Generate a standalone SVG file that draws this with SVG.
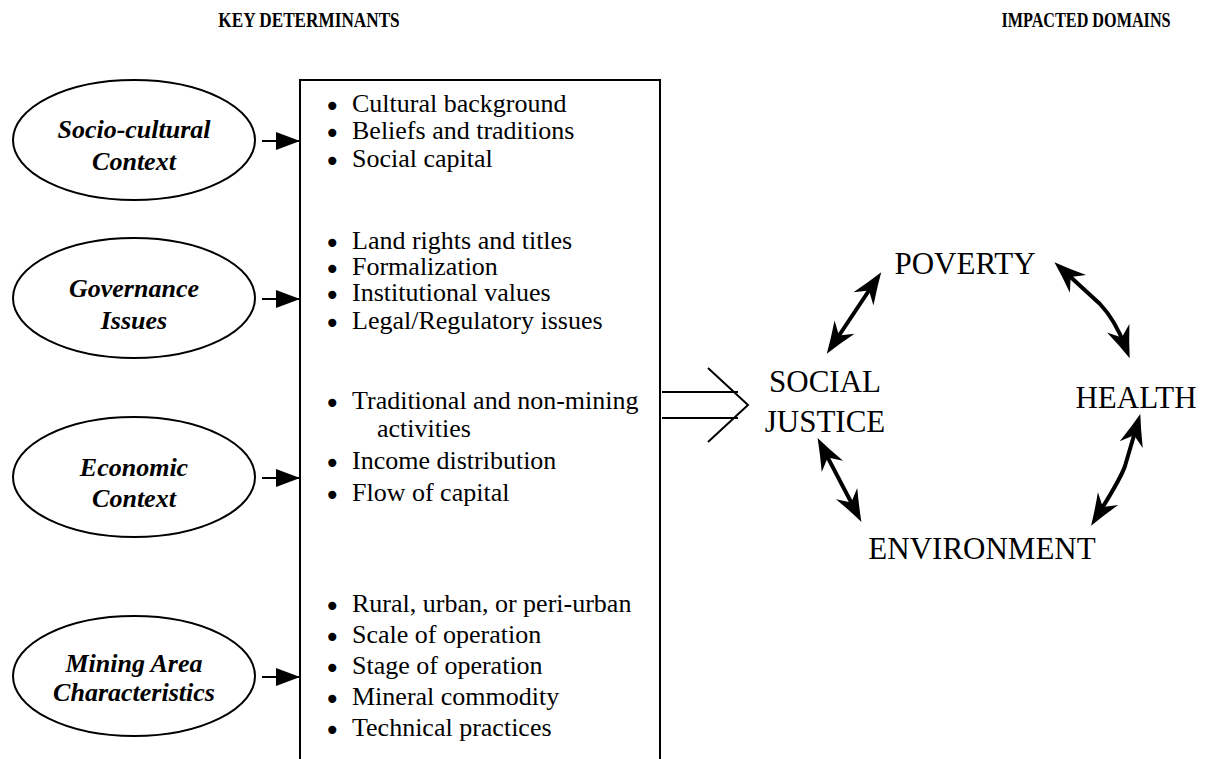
<svg xmlns="http://www.w3.org/2000/svg" width="1210" height="759" viewBox="0 0 1210 759">
<style>
.hdr{font-family:"Liberation Serif","Times New Roman",serif;font-weight:bold;font-size:20px;fill:#000;text-anchor:middle}
.oval{fill:#fff;stroke:#000;stroke-width:2}
.ot{font-family:"Liberation Serif","Times New Roman",serif;font-weight:bold;font-style:italic;font-size:26px;fill:#000;text-anchor:middle}
.bt{font-family:"Liberation Serif","Times New Roman",serif;font-size:26px;fill:#000}
.bu{font-family:"DejaVu Sans",sans-serif;font-size:28px}
.dom{font-family:"Liberation Serif","Times New Roman",serif;font-size:31px;fill:#000;text-anchor:middle}
.ln{stroke:#000;stroke-width:2;fill:none}
.dbl{stroke:#000;stroke-width:4;fill:none;stroke-linejoin:round}
</style>
<defs>
<marker id="tri" markerUnits="userSpaceOnUse" markerWidth="26" markerHeight="18" refX="24" refY="9" orient="auto" overflow="visible">
<path d="M0,0 L24,9 L0,18 Z" fill="#000"/>
</marker>
<marker id="barb" markerUnits="userSpaceOnUse" markerWidth="34" markerHeight="26" refX="19" refY="12" orient="auto-start-reverse" overflow="visible">
<path d="M32,12 Q17,7 0,0 L10,12 L0,24 Q17,17 32,12 Z" fill="#000"/>
</marker>
</defs>

<text class="hdr" transform="translate(309,27) scale(0.86,1)">KEY DETERMINANTS</text>
<text class="hdr" transform="translate(1086,27) scale(0.81,1)">IMPACTED DOMAINS</text>

<g id="determinants-box">
<path class="ln" d="M300,759 L300,80 L660,80 L660,759"/>
<g class="bt">
<text x="352" y="112"><tspan class="bu" x="324" dy="4">•</tspan><tspan x="352" dy="-4">Cultural background</tspan></text>
<text x="352" y="139"><tspan class="bu" x="324" dy="4">•</tspan><tspan x="352" dy="-4">Beliefs and traditions</tspan></text>
<text x="352" y="167"><tspan class="bu" x="324" dy="4">•</tspan><tspan x="352" dy="-4">Social capital</tspan></text>
<text x="352" y="249"><tspan class="bu" x="324" dy="4">•</tspan><tspan x="352" dy="-4">Land rights and titles</tspan></text>
<text x="352" y="275"><tspan class="bu" x="324" dy="4">•</tspan><tspan x="352" dy="-4">Formalization</tspan></text>
<text x="352" y="301"><tspan class="bu" x="324" dy="4">•</tspan><tspan x="352" dy="-4">Institutional values</tspan></text>
<text x="352" y="329"><tspan class="bu" x="324" dy="4">•</tspan><tspan x="352" dy="-4">Legal/Regulatory issues</tspan></text>
<text x="352" y="409"><tspan class="bu" x="324" dy="4">•</tspan><tspan x="352" dy="-4">Traditional and non-mining</tspan></text>
<text x="377" y="437">activities</text>
<text x="352" y="469"><tspan class="bu" x="324" dy="4">•</tspan><tspan x="352" dy="-4">Income distribution</tspan></text>
<text x="352" y="501"><tspan class="bu" x="324" dy="4">•</tspan><tspan x="352" dy="-4">Flow of capital</tspan></text>
<text x="352" y="612"><tspan class="bu" x="324" dy="4">•</tspan><tspan x="352" dy="-4">Rural, urban, or peri-urban</tspan></text>
<text x="352" y="643"><tspan class="bu" x="324" dy="4">•</tspan><tspan x="352" dy="-4">Scale of operation</tspan></text>
<text x="352" y="674"><tspan class="bu" x="324" dy="4">•</tspan><tspan x="352" dy="-4">Stage of operation</tspan></text>
<text x="352" y="705"><tspan class="bu" x="324" dy="4">•</tspan><tspan x="352" dy="-4">Mineral commodity</tspan></text>
<text x="352" y="736"><tspan class="bu" x="324" dy="4">•</tspan><tspan x="352" dy="-4">Technical practices</tspan></text>
</g>
</g>

<g id="socio-cultural">
<ellipse class="oval" cx="134" cy="140" rx="121" ry="60"/>
<text class="ot" x="134" y="138">Socio-cultural</text>
<text class="ot" x="134" y="170">Context</text>
</g>
<g id="governance">
<ellipse class="oval" cx="134" cy="298" rx="121" ry="60"/>
<text class="ot" x="134" y="297">Governance</text>
<text class="ot" x="134" y="329">Issues</text>
</g>
<g id="economic">
<ellipse class="oval" cx="134" cy="477" rx="121" ry="60"/>
<text class="ot" x="134" y="476">Economic</text>
<text class="ot" x="134" y="507">Context</text>
</g>
<g id="mining">
<ellipse class="oval" cx="134" cy="676" rx="121" ry="60"/>
<text class="ot" x="134" y="672">Mining Area</text>
<text class="ot" x="134" y="701">Characteristics</text>
</g>

<g id="poverty"><text class="dom" x="965" y="274">POVERTY</text></g>
<g id="social-justice"><text class="dom" x="825" y="392">SOCIAL</text><text class="dom" x="825" y="432">JUSTICE</text></g>
<g id="health"><text class="dom" x="1136" y="408">HEALTH</text></g>
<g id="environment"><text class="dom" x="982" y="559">ENVIRONMENT</text></g>

<g id="connectors">
<line class="ln" x1="262" y1="141" x2="300" y2="141" marker-end="url(#tri)"/>
<line class="ln" x1="262" y1="299" x2="300" y2="299" marker-end="url(#tri)"/>
<line class="ln" x1="262" y1="478" x2="300" y2="478" marker-end="url(#tri)"/>
<line class="ln" x1="262" y1="677" x2="300" y2="677" marker-end="url(#tri)"/>
<line class="ln" x1="662" y1="392" x2="738" y2="392"/>
<line class="ln" x1="662" y1="418" x2="738" y2="418"/>
<polyline class="ln" points="708,368 748,405 708,442"/>
<path class="dbl" d="M834,343 L874,283" marker-start="url(#barb)" marker-end="url(#barb)"/>
<path class="dbl" d="M1064,271 L1100,304 Q1115,320 1125,346" marker-start="url(#barb)" marker-end="url(#barb)"/>
<path class="dbl" d="M1136.6,426.5 L1125,466 Q1121,478 1098,514.7" marker-start="url(#barb)" marker-end="url(#barb)"/>
<path class="dbl" d="M823.6,449.6 L855.4,510.4" marker-start="url(#barb)" marker-end="url(#barb)"/>
</g>
</svg>
